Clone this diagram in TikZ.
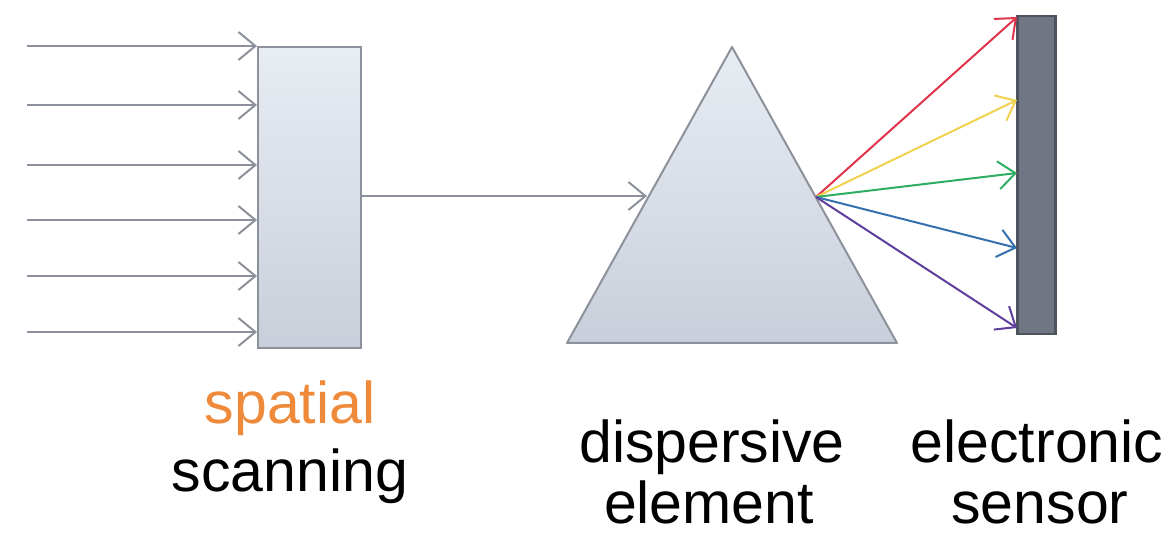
\documentclass[tikz,border=0pt]{standalone}
\usepackage{fontspec}
\setmainfont{Liberation Sans}
\usetikzlibrary{arrows.meta}
\definecolor{linegray}{HTML}{8C919B}
\definecolor{boxtop}{HTML}{E8ECF3}
\definecolor{boxbot}{HTML}{C9CFDA}
\definecolor{sensfill}{HTML}{707684}
\definecolor{sensdraw}{HTML}{4E535E}
\definecolor{rred}{HTML}{E0344A}
\definecolor{ryellow}{HTML}{F0D24E}
\definecolor{rgreen}{HTML}{2FAE62}
\definecolor{rblue}{HTML}{3570AE}
\definecolor{rpurple}{HTML}{5E3E9C}
\definecolor{sporange}{HTML}{EE8A3A}
\tikzset{
  ray/.style={line width=2pt, -{Straight Barb[length=17pt,width=28pt,line width=2pt]}},
  lbl/.style={font=\fontsize{59}{68}\selectfont, inner sep=0pt, anchor=base},
  shape frame/.style={draw=linegray, line width=2pt, top color=boxtop, bottom color=boxbot}
}
\begin{document}
\begin{tikzpicture}[x=1pt,y=-1pt]
\useasboundingbox (0,0) rectangle (1173,534);
% spatial scanning box
\node[shape frame, minimum width=103pt, minimum height=301pt, inner sep=0pt, anchor=north west] (scan) at (257,46) {};
% input rays
\foreach \i/\yy in {1/46,2/105,3/165,4/220,5/276,6/332}{
  \coordinate (in\i) at (27,\yy);
  \draw[ray, linegray] (in\i) -- (in\i -| scan.west);
}
% prism
\coordinate (apex) at (732,47);
\coordinate (bl) at (567,343);
\coordinate (br) at (897,343);
\path[shape frame, line join=round] (apex) -- (br) -- (bl) -- cycle;
\coordinate (entry) at (647,196);
\coordinate (exit) at (816,197);
\draw[ray, linegray] (entry -| scan.east) -- (entry);
% sensor
\node[draw=sensdraw, fill=sensfill, line width=2.5pt, minimum width=38pt, minimum height=318pt, inner sep=0pt, anchor=north west] (sens) at (1016,15) {};
\foreach \c/\yy/\n in {rred/17/r,ryellow/100/y,rgreen/173/g,rblue/248/b,rpurple/328/p}{
  \coordinate (t\n) at (1017,\yy);
  \draw[ray, \c] (exit) -- (t\n);
}
% labels
\node[lbl, text=sporange] (l1) at (290,424) {spatial};
\node[lbl] (l2) at (290,491) {scanning};
\node[lbl] (l3) at (712,462) {dispersive};
\node[lbl] (l4) at (709,523) {element};
\node[lbl] (l5) at (1037,462) {electronic};
\node[lbl] (l6) at (1040,523) {sensor};
\end{tikzpicture}
\end{document}
